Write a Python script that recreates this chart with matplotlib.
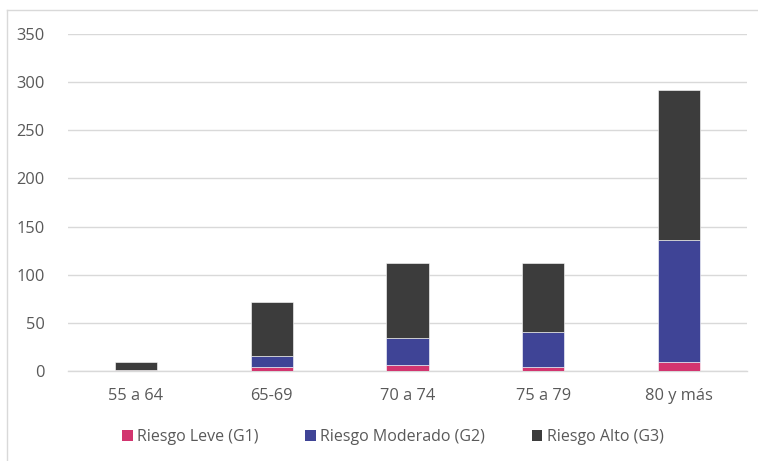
import matplotlib
matplotlib.use("Agg")
import matplotlib.pyplot as plt
from matplotlib.lines import Line2D
from matplotlib.patches import Patch
import numpy as np

categories = ["55 a 64", "65-69", "70 a 74", "75 a 79", "80 y más"]
g1 = [1, 4, 6, 4, 9]
g2 = [0, 12, 28, 37, 127]
g3 = [8, 56, 78, 71, 156]
series_names = ["Riesgo Leve (G1)", "Riesgo Moderado (G2)", "Riesgo Alto (G3)"]
colors = ["#D2356F", "#3F4496", "#3C3C3C"]
yticks = [0, 50, 100, 150, 200, 250, 300, 350]

plt.rcParams['font.family'] = ['Open Sans', 'DejaVu Sans']
text_color = "#595959"

fig = plt.figure(figsize=(7.58, 4.61), dpi=100)
ax = fig.add_axes([68/758, 1-371/461, (747-68)/758, (371-34)/461])

x = np.arange(len(categories))
bottom = np.zeros(len(categories))
for vals, c, name in zip([g1, g2, g3], colors, series_names):
    ax.bar(x, vals, width=0.31, bottom=bottom, color=c, label=name,
           edgecolor="#FFFFFF", linewidth=0.4, zorder=3)
    bottom += np.array(vals)

ax.set_xlim(-0.5, len(categories) - 0.5)
ax.set_ylim(0, 350)
ax.set_yticks(yticks)
ax.set_yticklabels([str(v) for v in yticks])
ax.set_xticks(x)
ax.set_xticklabels(categories)
ax.yaxis.grid(True, color="#D9D9D9", linewidth=1.0, zorder=0)
ax.set_axisbelow(True)
for s in ["top", "right", "left"]:
    ax.spines[s].set_visible(False)
ax.spines["bottom"].set_color("#D9D9D9")
ax.spines["bottom"].set_linewidth(1.0)
ax.tick_params(axis="both", length=0, colors=text_color, labelsize=11.8)
ax.tick_params(axis="y", pad=17)
ax.tick_params(axis="x", pad=12)

handles = [Patch(facecolor=c, edgecolor="none") for c in colors]
fig.legend(handles, series_names, loc="center", bbox_to_anchor=(393/758, 1-437/461),
           ncol=3, frameon=False, fontsize=11.5, labelcolor=text_color,
           handlelength=0.65, handleheight=0.65, handletextpad=0.3, columnspacing=2.9)

# outer chart border (left and top edges visible)
fig.add_artist(Line2D([7/758, 7/758], [0, 1-10/461], transform=fig.transFigure,
                      color="#D9D9D9", linewidth=1.0))
fig.add_artist(Line2D([7/758, 1], [1-10/461, 1-10/461], transform=fig.transFigure,
                      color="#D9D9D9", linewidth=1.0))

fig.savefig("out.png", dpi=100)
